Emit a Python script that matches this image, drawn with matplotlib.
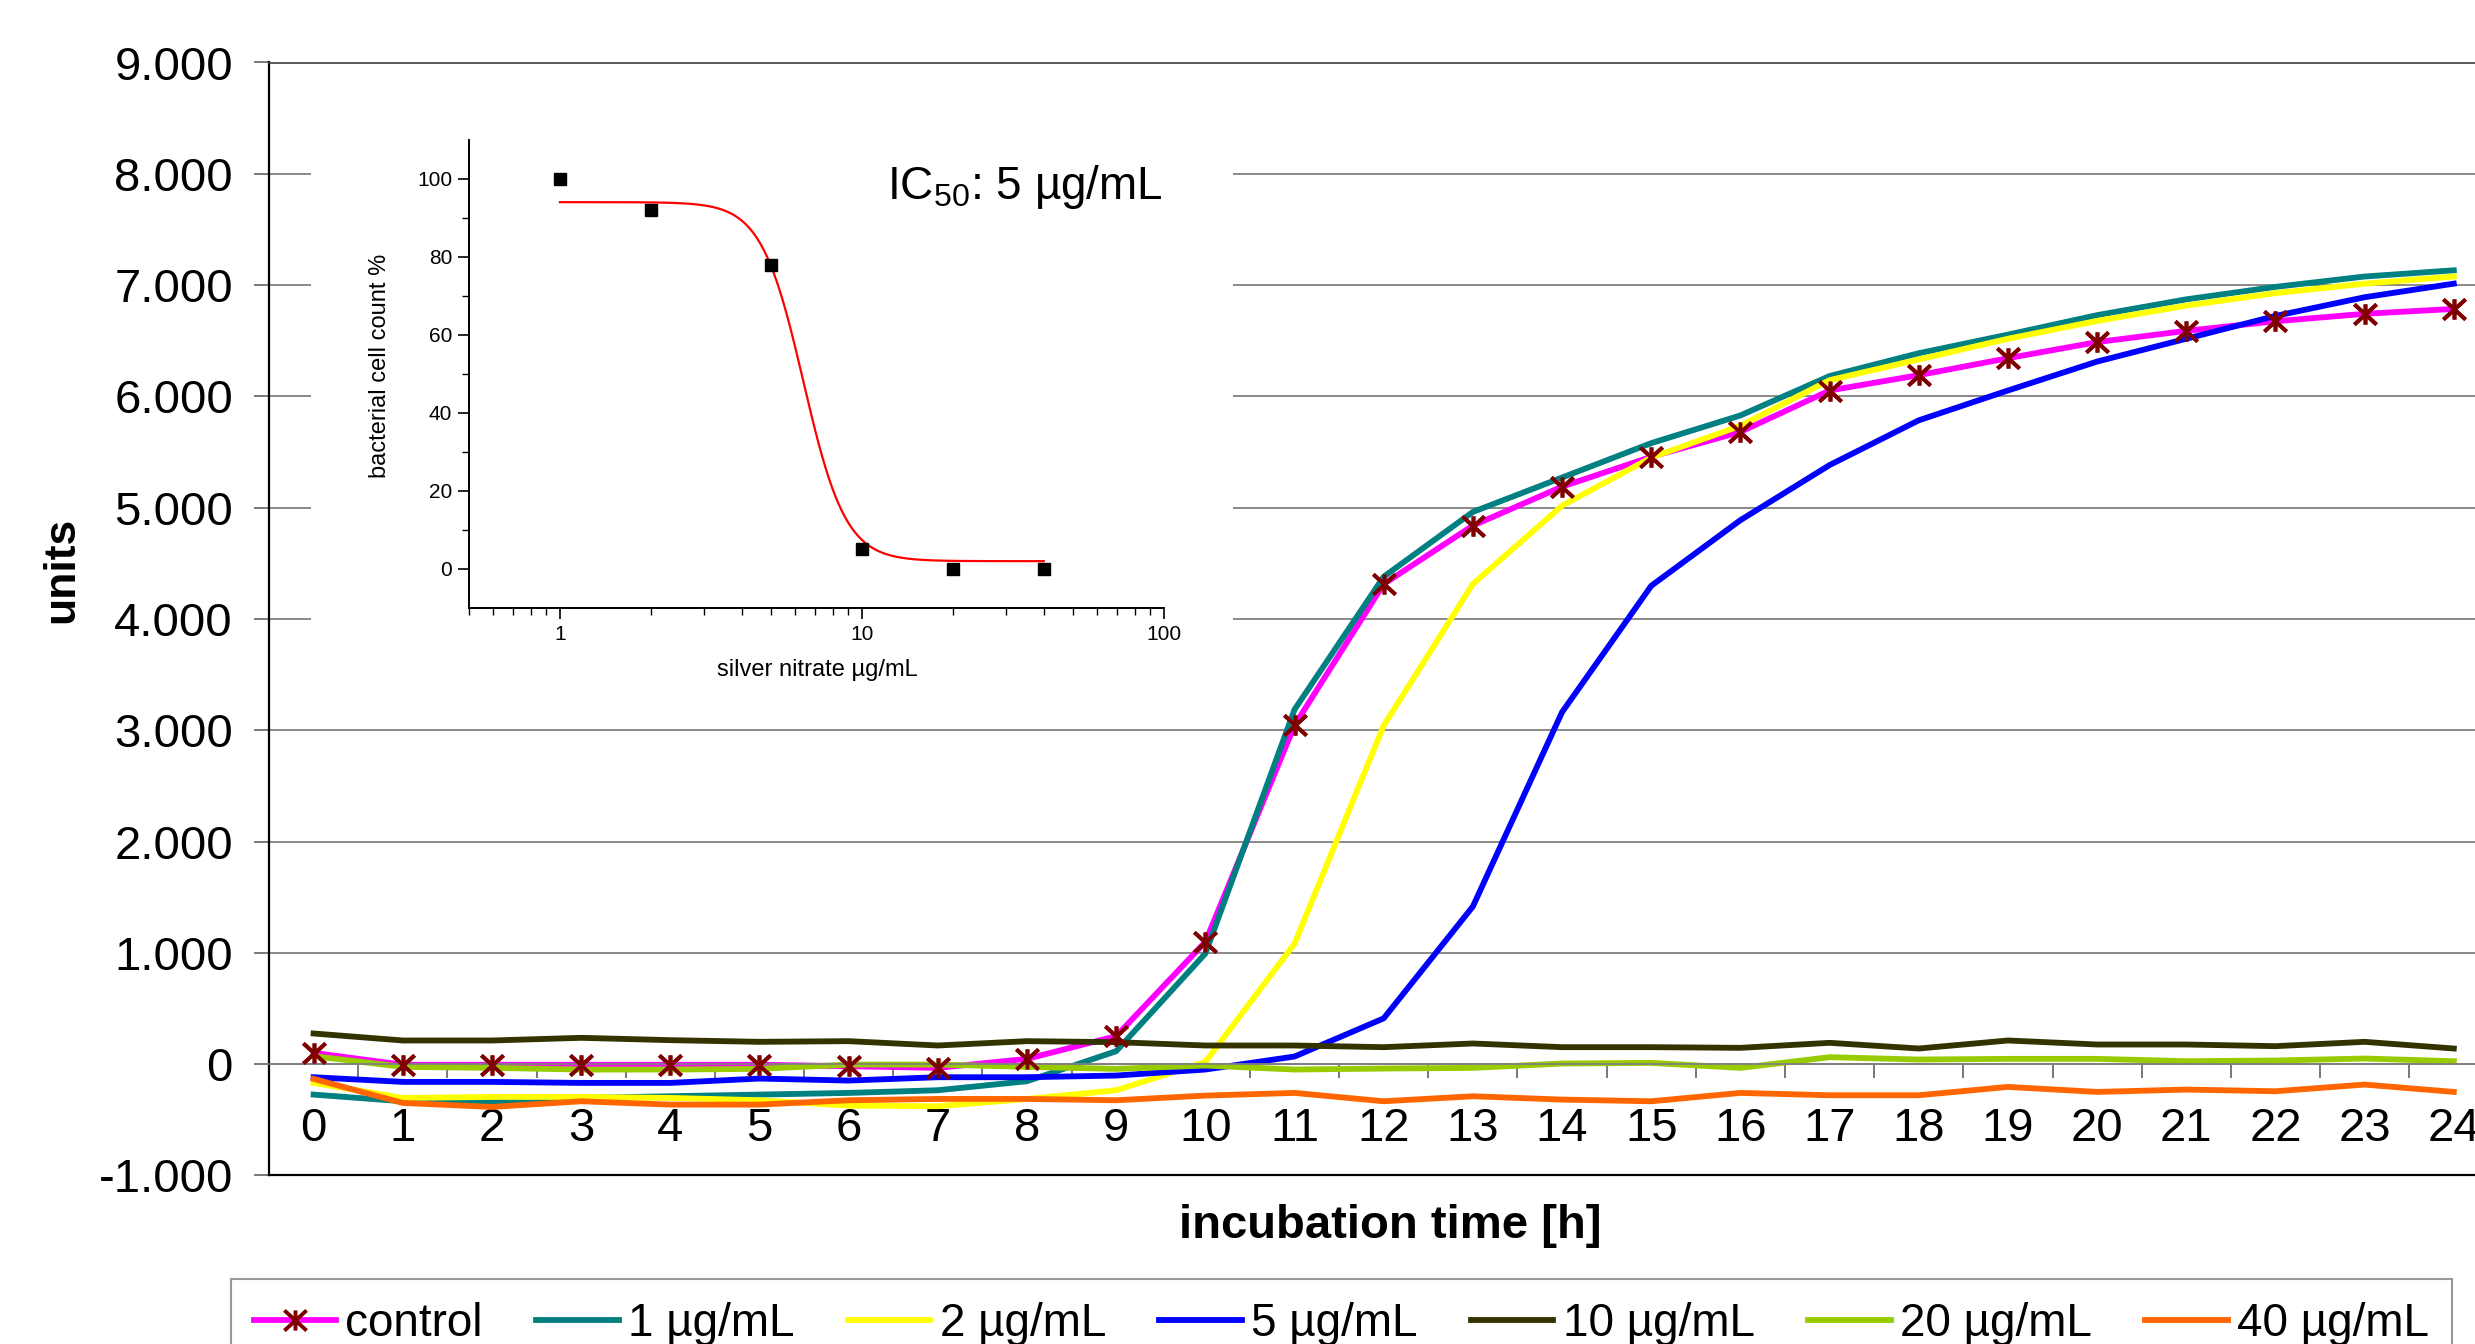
import numpy as np
import matplotlib
matplotlib.use("Agg")
import matplotlib.pyplot as plt
from matplotlib.patches import Rectangle
from matplotlib.path import Path

plt.rcParams['font.family'] = ['Liberation Sans', 'DejaVu Sans']
plt.rcParams['mathtext.fontset'] = 'custom'
plt.rcParams['mathtext.rm'] = 'Liberation Sans'
plt.rcParams['mathtext.it'] = 'Liberation Sans:italic'
plt.rcParams['mathtext.bf'] = 'Liberation Sans:bold'

# growth curves (units) per incubation hour
hours = list(range(25))
control = [102, -5, -5, -5, -5, -5, -18, -33, 48, 252, 1099, 3045, 4314, 4839, 5189,
           5457, 5681, 6053, 6191, 6343, 6488, 6589, 6675, 6742, 6786]
ag_1 = [-273, -333, -339, -303, -288, -273, -258, -234, -153, 117, 994, 3186, 4380, 4962,
        5271, 5580, 5829, 6183, 6388, 6555, 6730, 6872, 6984, 7077, 7133]
ag_2 = [-168, -303, -294, -294, -303, -324, -372, -378, -312, -234, 20, 1083, 3043, 4315,
        5018, 5450, 5736, 6146, 6332, 6518, 6678, 6816, 6928, 7013, 7077]
ag_5 = [-117, -159, -159, -168, -168, -129, -147, -117, -117, -102, -48, 69, 412, 1417,
        3163, 4298, 4888, 5383, 5785, 6053, 6313, 6518, 6723, 6891, 7013]
ag_10 = [276, 213, 213, 237, 216, 201, 207, 168, 207, 198, 168, 168, 153, 186, 153, 153,
         147, 192, 141, 213, 177, 177, 162, 201, 141]
ag_20 = [72, -24, -33, -48, -48, -42, -3, -3, -24, -42, -12, -48, -39, -33, 6, 12, -33,
         63, 42, 48, 48, 27, 33, 51, 27]
ag_40 = [-132, -348, -384, -333, -363, -363, -324, -312, -312, -324, -282, -258, -333,
         -288, -318, -333, -258, -279, -279, -204, -249, -228, -243, -183, -249]

series = [control, ag_1, ag_2, ag_5, ag_10, ag_20, ag_40]
labels = ['control', '1 µg/mL', '2 µg/mL', '5 µg/mL', '10 µg/mL', '20 µg/mL', '40 µg/mL']
colors = ['#FF00FF', '#008080', '#FFFF00', '#0000FF', '#333300', '#99CC00', '#FF6600']

ytick_vals = [-1000, 0, 1000, 2000, 3000, 4000, 5000, 6000, 7000, 8000, 9000]
ytick_labels = ['-1.000', '0', '1.000', '2.000', '3.000', '4.000', '5.000', '6.000',
                '7.000', '8.000', '9.000']

# inset: dose response
ag_conc = [1, 2, 5, 10, 20, 40]
cell_count = [100, 92, 78, 5, 0, 0]
fit_top, fit_bottom, fit_ic, fit_hill = 94, 2, 6.4, 6.2

# asterisk marker like Excel's
star = Path([(0, -1), (0, 1), (-1.1, -1), (1.1, 1), (-1.1, 1), (1.1, -1)],
            [Path.MOVETO, Path.LINETO, Path.MOVETO, Path.LINETO, Path.MOVETO, Path.LINETO])

fig = plt.figure(figsize=(24.75, 13.44), dpi=100)
W, H = 2475, 1344
ax = fig.add_axes([269 / W, 1 - 1175.5 / H, (2498.4 - 269) / W, (1175.5 - 62.5) / H])
ax.set_zorder(0)

handles = []
for i, (vals, lab, col) in enumerate(zip(series, labels, colors)):
    if i == 0:
        h, = ax.plot(hours, vals, color=col, lw=4.2, label=lab, marker=star, ms=16,
                     mec='#800000', mfc='none', mew=2.8, zorder=2)
    else:
        h, = ax.plot(hours, vals, color=col, lw=4.2, label=lab, zorder=2)
    handles.append(h)
ax.plot(hours, control, ls='none', marker=star, ms=16, mec='#800000', mfc='none',
        mew=2.8, zorder=4)

ax.set_xlim(-0.5, 24.5)
ax.set_ylim(-1000, 9000)
ax.set_yticks(ytick_vals, ytick_labels)
ax.set_xticks(hours, [str(h) for h in hours])
ax.set_xticks(np.arange(-0.5, 25, 1), minor=True)
ax.tick_params(axis='x', which='major', length=0, pad=31, labelsize=34)
ax.tick_params(axis='x', which='minor', length=10, width=1.2, color='#606060', direction='out')
ax.tick_params(axis='y', length=11, width=1.3, color='#707070', pad=15, labelsize=34)
ax.yaxis.grid(True, color='#808080', lw=1.3)
ax.set_axisbelow(True)

ax.spines['bottom'].set_position(('data', 0))
ax.spines['bottom'].set_color('#808080')
ax.spines['bottom'].set_linewidth(1.3)
ax.spines['right'].set_visible(False)
ax.spines['top'].set_color('#404040')
ax.spines['top'].set_linewidth(1.2)
ax.spines['left'].set_linewidth(1.6)
ax.axhline(ax.get_ylim()[0], color='black', lw=1.6, clip_on=False, zorder=3)

fig.text(62 / W, 1 - 570 / H, 'units', rotation=90, ha='center', va='center',
         fontsize=32, fontweight='bold')
fig.text(1390 / W, 1 - 1226 / H, 'incubation time [h]', ha='center', va='center',
         fontsize=34, fontweight='bold')

# white box behind inset
fig.add_artist(Rectangle((311 / W, 1 - 700 / H), (1233 - 311) / W, (700 - 75) / H,
                         transform=fig.transFigure, facecolor='white', edgecolor='none',
                         zorder=1))

axi = fig.add_axes([469 / W, 1 - 608 / H, (1164 - 469) / W, (608 - 139.7) / H])
axi.set_zorder(2)
axi.patch.set_alpha(0)
xs = np.logspace(np.log10(ag_conc[0]), np.log10(ag_conc[-1]), 300)
axi.plot(xs, fit_bottom + (fit_top - fit_bottom) / (1 + (xs / fit_ic) ** fit_hill),
         color='red', lw=1.6)
axi.plot(ag_conc, cell_count, ls='none', marker='s', ms=8, color='black')
axi.set_xscale('log')
axi.set_xlim(0.5, 100)
axi.set_ylim(-10, 110)
axi.set_xticks([1, 10, 100], ['1', '10', '100'])
axi.set_yticks([0, 20, 40, 60, 80, 100])
axi.set_yticks([10, 30, 50, 70, 90], minor=True)
axi.tick_params(which='major', length=8, width=1.2, labelsize=15, pad=4)
axi.tick_params(which='minor', length=5, width=1.0)
axi.spines['top'].set_visible(False)
axi.spines['right'].set_visible(False)
for s in ['left', 'bottom']:
    axi.spines[s].set_linewidth(1.4)
fig.text(380 / W, 1 - 366 / H, 'bacterial cell count %', rotation=90, ha='center',
         va='center', fontsize=17, zorder=3)
fig.text(817 / W, 1 - 670 / H, 'silver nitrate µg/mL', ha='center', va='center',
         fontsize=17, zorder=3)
fig.text(887 / W, 1 - 199 / H, 'IC$_{50}$: 5 µg/mL', ha='left', va='baseline',
         fontsize=33, zorder=3)

leg = fig.legend(handles, labels, loc='upper left', ncol=7, mode='expand',
                 bbox_to_anchor=(230.7 / W, 1 - 1279 / H - 0.2, (2451.7 - 230.7) / W, 0.2),
                 fontsize=33, frameon=True, fancybox=False, edgecolor='#808080',
                 handlelength=1.8, handletextpad=0.2, borderpad=0.5, borderaxespad=0)
leg.get_frame().set_linewidth(1.5)

fig.savefig('out.png', dpi=100)
